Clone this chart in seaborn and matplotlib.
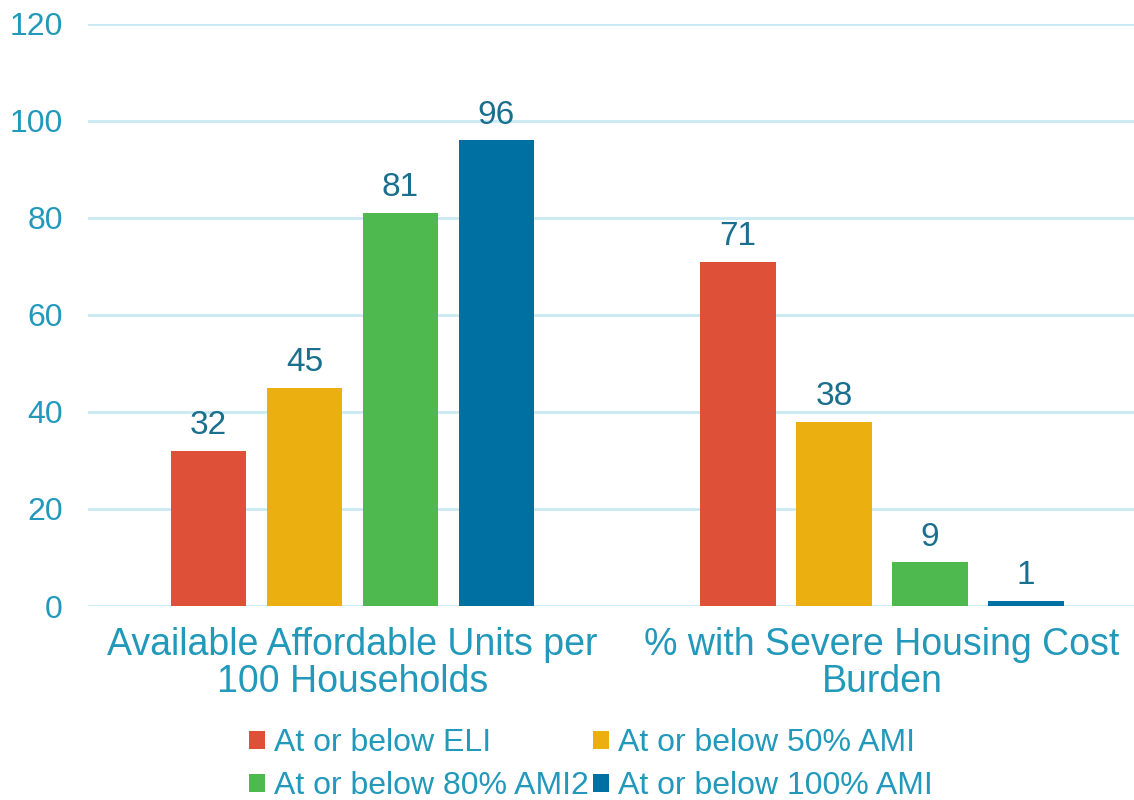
import matplotlib
matplotlib.use("Agg")
import matplotlib.pyplot as plt
import seaborn as sns
import pandas as pd
from matplotlib.patches import Patch

categories = ["Available Affordable Units per\n100 Households", "% with Severe Housing Cost\nBurden"]
series = ["At or below ELI", "At or below 50% AMI", "At or below 80% AMI2", "At or below 100% AMI"]
eli = [32, 71]
ami50 = [45, 38]
ami80 = [81, 9]
ami100 = [96, 1]
colors = ["#DE5138", "#ECAF10", "#4DB94E", "#0070A2"]
yticks = [0, 20, 40, 60, 80, 100, 120]

rows = []
for s, vals in zip(series, [eli, ami50, ami80, ami100]):
    for c, v in zip(categories, vals):
        rows.append({"category": c, "series": s, "value": v})
df = pd.DataFrame(rows)

sns.set_theme(style="white")
plt.rcParams["font.family"] = ["Liberation Sans", "DejaVu Sans"]

text_color = "#2299BB"
label_color = "#1B6F8E"
grid_color = "#C9EAF3"

fig = plt.figure(figsize=(11.34, 8.0), dpi=100)
ax = fig.add_axes([88 / 1134, 1 - 606 / 800, 1 - 88 / 1134, (606 - 24) / 800])

sns.barplot(data=df, x="category", y="value", hue="series", hue_order=series,
            order=categories, palette=colors, width=0.725, gap=0.21,
            saturation=1, ax=ax, legend=False, linewidth=0)

for cont in ax.containers:
    ax.bar_label(cont, fmt="%d", padding=7, fontsize=24, color=label_color)

ax.set_ylim(0, 120)
ax.set_xlim(-0.4995, 1.476)
ax.set_yticks(yticks)
ax.set_yticklabels([str(t) for t in yticks])
ax.yaxis.grid(True, color=grid_color, linewidth=2)
ax.set_axisbelow(True)
for sp in ax.spines.values():
    sp.set_visible(False)
ax.tick_params(axis="y", length=0, pad=18, labelsize=23, labelcolor=text_color)
ax.tick_params(axis="x", length=0, pad=15, labelsize=27, labelcolor=text_color)
for lbl in ax.get_xticklabels():
    lbl.set_linespacing(1.04)
ax.set_xlabel("")
ax.set_ylabel("")

# row-wise legend order (matplotlib fills columns first)
order = [0, 2, 1, 3]
handles = [Patch(facecolor=colors[i], edgecolor="none") for i in order]
labels = [series[i] for i in order]
leg = fig.legend(handles, labels, loc="center", bbox_to_anchor=(0.521, 0.044),
                 ncol=2, frameon=False, fontsize=23, handlelength=0.5, handleheight=0.5,
                 handletextpad=0.28, columnspacing=0.15, labelspacing=0.4,
                 borderpad=0, borderaxespad=0)
for t in leg.get_texts():
    t.set_color(text_color)

fig.savefig("out.png", dpi=100)
